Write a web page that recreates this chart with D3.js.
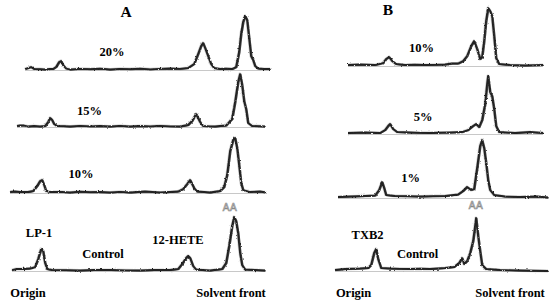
<!DOCTYPE html>
<html><head><meta charset="utf-8">
<script src="https://cdn.jsdelivr.net/npm/d3@7"></script>
<style>html,body{margin:0;padding:0;background:#fff;}svg{display:block;}</style>
</head><body>
<svg id="chart" width="550" height="304"></svg>
<script>
// ---- DATA: migration distance (cm) vs. relative radioactivity ----
const panelTitles = ["A", "B"];
const laneLabelsA = ["20%", "15%", "10%", "Control"];
const laneLabelsB = ["10%", "5%", "1%", "Control"];
const peakLabelsA = ["LP-1", "12-HETE", "AA"];
const peakLabelsB = ["TXB2", "AA"];
const axisLabels = ["Origin", "Solvent front"];

const a20 = [[0.75,1],[0.9,2],[1.05,3],[1.2,1],[1.5,0.8],[1.75,0.5],[2.0,1],[2.15,1],[2.3,3],[2.45,8],[2.55,9],[2.65,5],[2.8,1.5],[3.0,0.5],[3.5,1.2],[4.0,0.8],[4.5,1.3],[5.0,0.5],[5.5,1.1],[6.0,0.8],[6.5,1.3],[7.0,0.6],[7.5,1.2],[8.0,1.5],[8.5,1.2],[8.9,2],[9.2,6],[9.4,16],[9.55,24],[9.65,27],[9.75,22],[9.9,14],[10.05,6],[10.2,2],[10.5,1],[10.8,1.3],[11.1,1],[11.3,3],[11.45,18],[11.55,36],[11.65,48],[11.75,54],[11.85,50],[11.95,32],[12.05,14],[12.15,10],[12.25,4],[12.4,1.5],[12.7,1],[13.0,1]];
const a15 = [[0.35,1],[0.5,1.5],[0.7,1.5],[0.9,0.5],[1.2,1],[1.5,0.5],[1.75,1],[1.9,5],[2.0,9],[2.1,7],[2.2,3],[2.35,1],[2.7,0.8],[3.0,0.5],[3.5,1.1],[4.0,0.6],[4.5,1],[5.0,0.5],[5.5,1.1],[6.0,0.5],[6.5,1],[7.0,0.7],[7.5,1.1],[8.0,0.6],[8.5,0.5],[8.9,2],[9.1,6],[9.3,13],[9.4,9],[9.5,5],[9.65,1],[10.0,0.7],[10.25,0.5],[10.5,1],[10.8,1.5],[11.0,6],[11.1,8],[11.25,25],[11.4,45],[11.5,53],[11.6,42],[11.7,26],[11.8,18],[11.9,4],[12.1,1],[12.4,0.8],[12.75,0.5]];
const a10 = [[0,1],[0.25,1.5],[0.5,1],[0.9,1],[1.15,2],[1.35,7],[1.5,12],[1.6,13],[1.7,8],[1.8,2],[2.0,1],[2.5,1.2],[3.0,0.5],[3.5,1.3],[4.0,0.8],[4.5,1],[5.0,0.5],[5.5,1.2],[6.0,0.5],[6.75,1.5],[7.5,0.5],[8.0,1],[8.4,1.5],[8.65,4],[8.85,9],[9.0,13],[9.1,9],[9.2,5],[9.35,1.5],[9.7,1],[10.0,0.5],[10.5,2],[10.7,6],[10.85,18],[11.0,42],[11.15,53],[11.25,55],[11.35,45],[11.45,28],[11.55,10],[11.65,3],[12.0,1],[12.5,1.5],[12.8,0.5]];
const aCtl = [[0.1,1],[0.3,2],[0.6,2],[1.0,2.5],[1.25,4],[1.4,12],[1.55,22],[1.65,20],[1.75,8],[1.85,2],[2.1,1],[2.8,0.8],[3.5,0.5],[4.2,1],[5.0,1],[5.8,0.6],[6.5,0.5],[7.2,1],[8.0,1],[8.4,2],[8.6,7],[8.8,13],[8.9,15],[9.0,13],[9.15,5],[9.3,1.5],[9.6,1],[10.0,0.5],[10.6,2],[10.8,8],[10.95,25],[11.1,45],[11.2,54],[11.3,50],[11.4,38],[11.5,18],[11.6,6],[11.75,1.5],[12.25,1],[12.75,0.5]];

const b10 = [[0.65,1],[1.25,1.5],[2.0,1],[2.4,3],[2.55,7],[2.7,9],[2.85,5],[3.05,2],[3.5,1],[4.0,1.3],[4.5,1],[5.0,1.2],[5.5,1.5],[5.85,2.5],[6.15,2.5],[6.4,5],[6.6,10],[6.8,20],[6.95,25],[7.1,17],[7.25,7],[7.35,9],[7.45,25],[7.55,45],[7.65,58],[7.75,55],[7.85,50],[7.95,30],[8.05,8],[8.2,2],[8.75,1],[9.5,0.5],[10.4,1]];
const b5 = [[0.65,1],[1.5,1.5],[2.25,1],[2.5,4],[2.65,8],[2.75,10],[2.9,5],[3.1,2],[3.75,1.5],[4.25,1.2],[4.75,1],[5.25,1.3],[5.75,1.5],[6.35,2],[6.65,4],[6.9,8],[7.05,10],[7.2,7],[7.35,14],[7.5,30],[7.6,50],[7.65,58],[7.75,42],[7.85,38],[7.95,25],[8.05,8],[8.2,2],[9.0,1],[9.75,2],[10.4,1]];
const b1 = [[0.15,1],[0.75,1.5],[1.5,2],[2.0,2.5],[2.2,8],[2.35,16],[2.45,10],[2.55,3],[3.0,2],[3.6,1.8],[4.25,1.5],[4.9,1.8],[5.5,2],[6.15,3.5],[6.4,7],[6.6,11],[6.8,8],[6.95,9],[7.1,30],[7.25,52],[7.35,58],[7.45,50],[7.55,35],[7.65,18],[7.75,8],[7.95,3],[8.5,1.5],[9.25,1],[10.1,1.5],[10.65,0.5]];
const bCtl = [[0,1],[0.5,2],[1.25,2.5],[1.65,3],[1.8,6],[1.95,18],[2.05,22],[2.15,12],[2.3,3],[2.75,2.5],[3.25,2.2],[3.75,2],[4.25,2.3],[4.75,2],[5.5,3],[5.95,4],[6.2,8],[6.35,13],[6.45,7],[6.6,10],[6.75,18],[6.9,30],[7.0,45],[7.05,53],[7.15,35],[7.25,20],[7.35,6],[7.55,2],[8.25,1],[9.25,0.5],[10.65,0]];

// ---- LAYOUT ----
const svg = d3.select("#chart");
const serif = "'Liberation Serif','Times New Roman',serif";
const xA = d3.scaleLinear().domain([0, 13]).range([10, 270]);
const xB = d3.scaleLinear().domain([0, 11]).range([335, 555]);
const laneH = 60;

// scanned-trace roughness (rendering effect only)
const defs = svg.append("defs");
const f = defs.append("filter").attr("id", "rough").attr("x", "-5%").attr("y", "-20%")
  .attr("width", "110%").attr("height", "140%");
f.append("feTurbulence").attr("type", "fractalNoise").attr("baseFrequency", "0.6")
  .attr("numOctaves", 2).attr("seed", 3).attr("result", "n");
f.append("feDisplacementMap").attr("in", "SourceGraphic").attr("in2", "n")
  .attr("scale", 2.2).attr("xChannelSelector", "R").attr("yChannelSelector", "G");

const panels = [
  { title: panelTitles[0], x: xA, titleX: 5.8, titleY: 17,
    lanes: [
      { data: a20, base: 70,  label: laneLabelsA[0], lx: 5.1,  lh: 14 },
      { data: a15, base: 127, label: laneLabelsA[1], lx: 3.98, lh: 12 },
      { data: a10, base: 193, label: laneLabelsA[2], lx: 3.55, lh: 15 },
      { data: aCtl, base: 271, label: laneLabelsA[3], lx: 4.65, lh: 13 }
    ],
    peaks: [
      { text: peakLabelsA[0], lx: 1.45, lh: 34, lane: 3 },
      { text: peakLabelsA[1], lx: 8.4, lh: 27, lane: 3 },
      { text: peakLabelsA[2], lx: 11.0, lh: 60, lane: 3, light: true }
    ],
    originX: 0.9, frontX: 11.05 },
  { title: panelTitles[1], x: xB, titleX: 2.65, titleY: 15,
    lanes: [
      { data: b10, base: 66,  label: laneLabelsB[0], lx: 4.33, lh: 14 },
      { data: b5,  base: 134, label: laneLabelsB[1], lx: 4.4,  lh: 13 },
      { data: b1,  base: 198, label: laneLabelsB[2], lx: 3.78, lh: 16 },
      { data: bCtl, base: 271, label: laneLabelsB[3], lx: 4.13, lh: 13 }
    ],
    peaks: [
      { text: peakLabelsB[0], lx: 1.63, lh: 32, lane: 3 },
      { text: peakLabelsB[1], lx: 7.05, lh: 62, lane: 3, light: true }
    ],
    originX: 0.93, frontX: 8.75 }
];

panels.forEach(p => {
  const g = svg.append("g");
  g.append("text").attr("x", p.x(p.titleX)).attr("y", p.titleY)
    .attr("text-anchor", "middle").attr("font-family", serif)
    .attr("font-weight", "bold").attr("font-size", 15.5).attr("fill", "#000").text(p.title);

  p.lanes.forEach(l => {
    const y = d3.scaleLinear().domain([0, laneH]).range([l.base, l.base - laneH]);
    const ext = d3.extent(l.data, d => d[0]);
    g.append("line").attr("x1", p.x(ext[0])).attr("x2", p.x(ext[1]))
      .attr("y1", y(0) + 0.5).attr("y2", y(0) + 0.5).attr("stroke", "#c8c8c8").attr("stroke-width", 1.2);
    const line = d3.line().x(d => p.x(d[0])).y(d => y(d[1])).curve(d3.curveLinear);
    const tg = g.append("g").attr("filter", "url(#rough)");
    tg.append("path").datum(l.data).attr("d", line).attr("fill", "none")
      .attr("stroke", "#999").attr("stroke-width", 3.2).attr("stroke-opacity", 0.45)
      .attr("stroke-linejoin", "round");
    tg.append("path").datum(l.data).attr("d", line).attr("fill", "none")
      .attr("stroke", "#444").attr("stroke-width", 1.3).attr("transform", "translate(0.9,0.3)")
      .attr("stroke-linejoin", "round");
    tg.append("path").datum(l.data).attr("d", line).attr("fill", "none")
      .attr("stroke", "#222").attr("stroke-width", 1.8).attr("stroke-linejoin", "round");
    g.append("text").attr("x", p.x(l.lx)).attr("y", y(l.lh))
      .attr("text-anchor", "middle").attr("font-family", serif)
      .attr("font-weight", "bold").attr("font-size", 12.5).attr("fill", "#000").text(l.label);
  });

  p.peaks.forEach(k => {
    const l = p.lanes[k.lane];
    const y = d3.scaleLinear().domain([0, laneH]).range([l.base, l.base - laneH]);
    const t = g.append("text").attr("x", p.x(k.lx)).attr("y", y(k.lh))
      .attr("text-anchor", "middle").text(k.text);
    if (k.light) {
      t.attr("font-family", "'Liberation Sans',Arial,sans-serif").attr("font-size", 10)
        .attr("fill", "#fff").attr("stroke", "#888").attr("stroke-width", 0.7)
        .attr("letter-spacing", 0.5);
    } else {
      t.attr("font-family", serif).attr("font-weight", "bold")
        .attr("font-size", 12.5).attr("fill", "#000");
    }
  });

  [[p.originX, axisLabels[0]], [p.frontX, axisLabels[1]]].forEach(([xv, txt]) => {
    g.append("text").attr("x", p.x(xv)).attr("y", 297).attr("text-anchor", "middle")
      .attr("font-family", serif).attr("font-weight", "bold").attr("font-size", 12.5)
      .attr("fill", "#000").text(txt);
  });
});
</script>
</body></html>
